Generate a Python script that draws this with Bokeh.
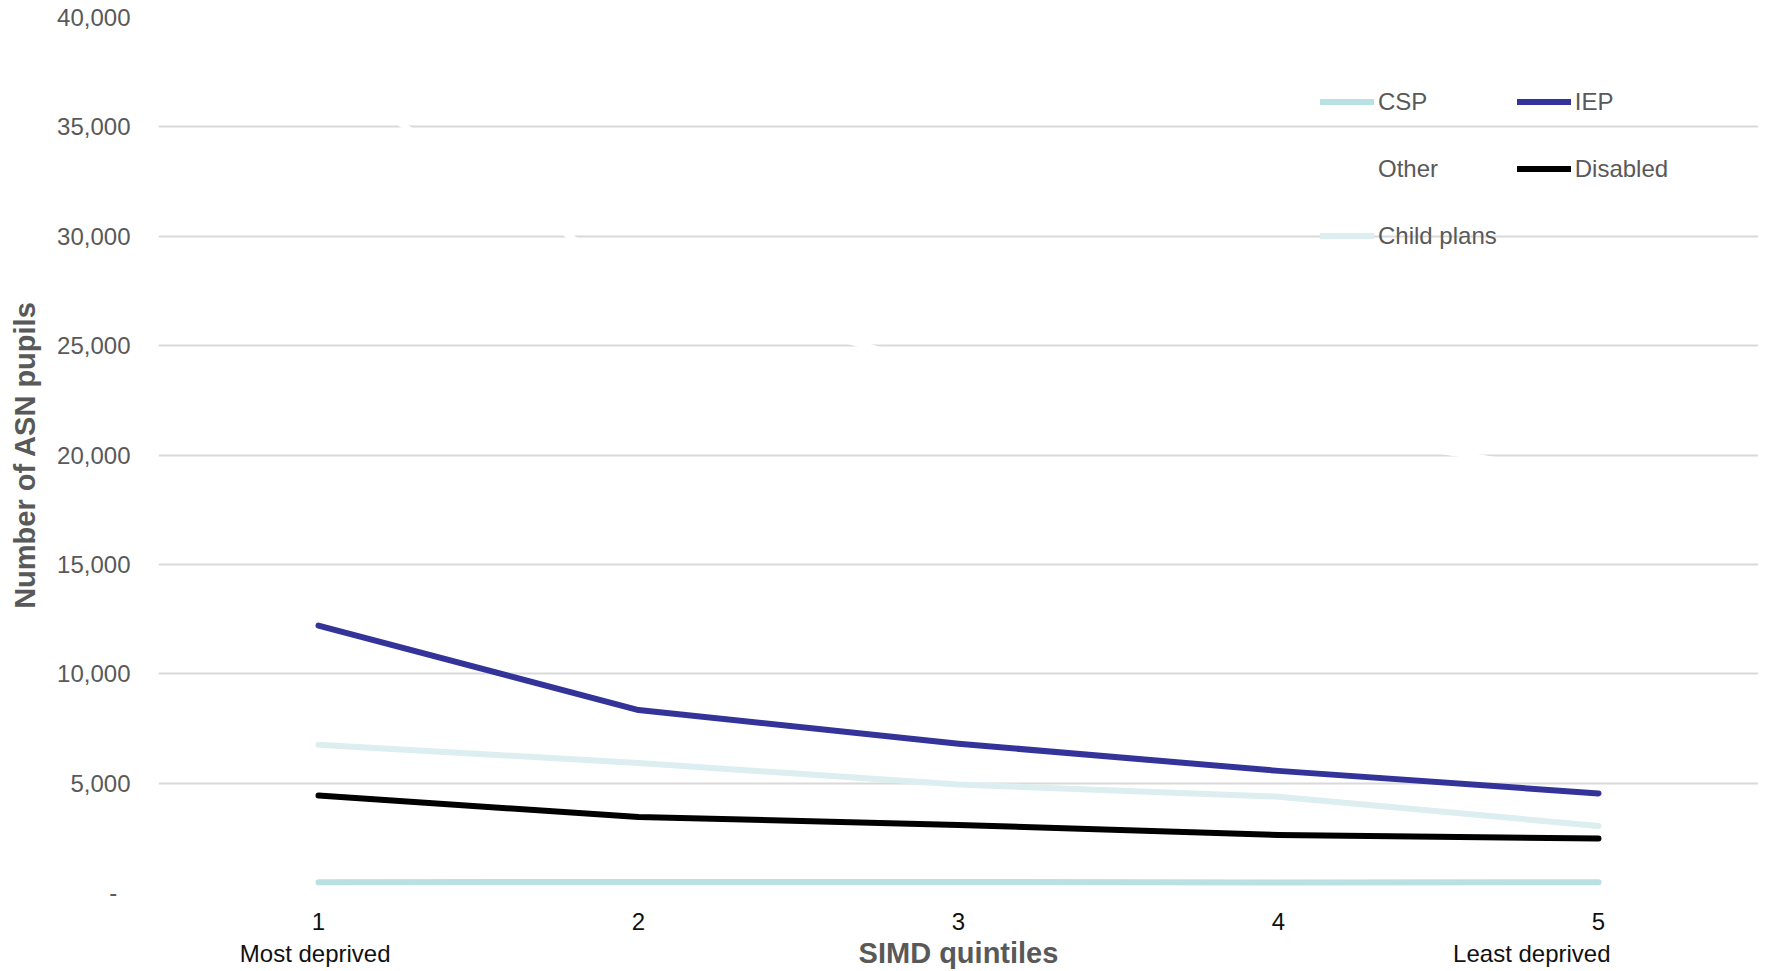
from bokeh.plotting import figure
from bokeh.models import Range1d, Legend, LegendItem, FixedTicker
from bokeh.embed import file_html
from bokeh.resources import INLINE

quintiles = [1, 2, 3, 4, 5]
quintile_tick_labels = ["1", "2", "3", "4", "5"]
end_labels = {1: "Most deprived", 5: "Least deprived"}

csp = [470, 480, 480, 460, 470]
iep = [12200, 8340, 6800, 5560, 4530]
other = [37650, 27900, 23800, 21400, 19000]
disabled = [4430, 3450, 3090, 2630, 2470]
child_plans = [6750, 5920, 4940, 4380, 3040]

y_ticks = [0, 5000, 10000, 15000, 20000, 25000, 30000, 35000, 40000]
y_tick_labels = ["-", "5,000", "10,000", "15,000", "20,000", "25,000", "30,000", "35,000", "40,000"]

series_names = ["CSP", "IEP", "Other", "Disabled", "Child plans"]
series_values = [csp, iep, other, disabled, child_plans]
series_colors = ["#B9E0E3", "#333399", "#FFFFFF", "#000000", "#DCEEF0"]

FONT = "Liberation Sans, Arial, sans-serif"
GREY = "#595959"
NB = "\u00a0"

p = figure(width=1758, height=971, output_backend="svg", toolbar_location=None,
           x_range=Range1d(0.5, 5.5), y_range=Range1d(0, 40000),
           min_border_left=158, min_border_right=0, min_border_top=17, min_border_bottom=79)
p.outline_line_color = None
p.background_fill_color = "white"
p.border_fill_color = "white"

p.xgrid.grid_line_color = None
p.ygrid.grid_line_color = "#D9D9D9"
p.ygrid.grid_line_width = 2

# y axis
ylabels = {t: l for t, l in zip(y_ticks, y_tick_labels)}
ylabels[0] = ylabels[0] + NB * 2
p.yaxis.ticker = FixedTicker(ticks=y_ticks)
p.yaxis.major_label_overrides = ylabels
p.yaxis.axis_line_color = None
p.yaxis.major_tick_line_color = None
p.yaxis.minor_tick_line_color = None
p.yaxis.major_label_standoff = 22
p.yaxis.major_label_text_font = FONT
p.yaxis.major_label_text_font_size = "24px"
p.yaxis.major_label_text_color = GREY
p.yaxis.axis_label = "Number of ASN pupils"
p.yaxis.axis_label_text_font = FONT
p.yaxis.axis_label_text_font_style = "bold"
p.yaxis.axis_label_text_font_size = "29px"
p.yaxis.axis_label_text_color = GREY
p.yaxis.axis_label_standoff = 13

# x axis
xlabels = {q: l for q, l in zip(quintiles, quintile_tick_labels)}
xlabels[1] = xlabels[1] + "\n" + end_labels[1] + NB
xlabels[5] = xlabels[5] + "\n" + end_labels[5] + NB * 20
p.xaxis.ticker = FixedTicker(ticks=quintiles)
p.xaxis.major_label_overrides = xlabels
p.xaxis.axis_line_color = None
p.xaxis.major_tick_line_color = None
p.xaxis.minor_tick_line_color = None
p.xaxis.major_label_standoff = 9
p.xaxis.major_label_text_font = FONT
p.xaxis.major_label_text_font_size = "24px"
p.xaxis.major_label_text_color = "#111111"
p.xaxis.axis_label = "SIMD quintiles"
p.xaxis.axis_label_text_font = FONT
p.xaxis.axis_label_text_font_style = "bold"
p.xaxis.axis_label_text_font_size = "29px"
p.xaxis.axis_label_text_color = GREY
p.xaxis.axis_label_standoff = -33

renderers = []
for name, vals, col in zip(series_names, series_values, series_colors):
    r = p.line(quintiles, vals, line_color=col, line_width=6, line_cap="round", line_join="round")
    renderers.append(r)

legend = Legend(items=[LegendItem(label=n, renderers=[r]) for n, r in zip(series_names, renderers)],
                orientation="horizontal", ncols=2, location=(1162, 633),
                glyph_width=54, glyph_height=47, label_height=47, label_standoff=4,
                spacing=20, padding=0, margin=0,
                border_line_color=None, background_fill_alpha=0,
                label_text_font=FONT, label_text_font_size="24px", label_text_color=GREY)
p.add_layout(legend)

open("out.html", "w").write(file_html(p, INLINE))
